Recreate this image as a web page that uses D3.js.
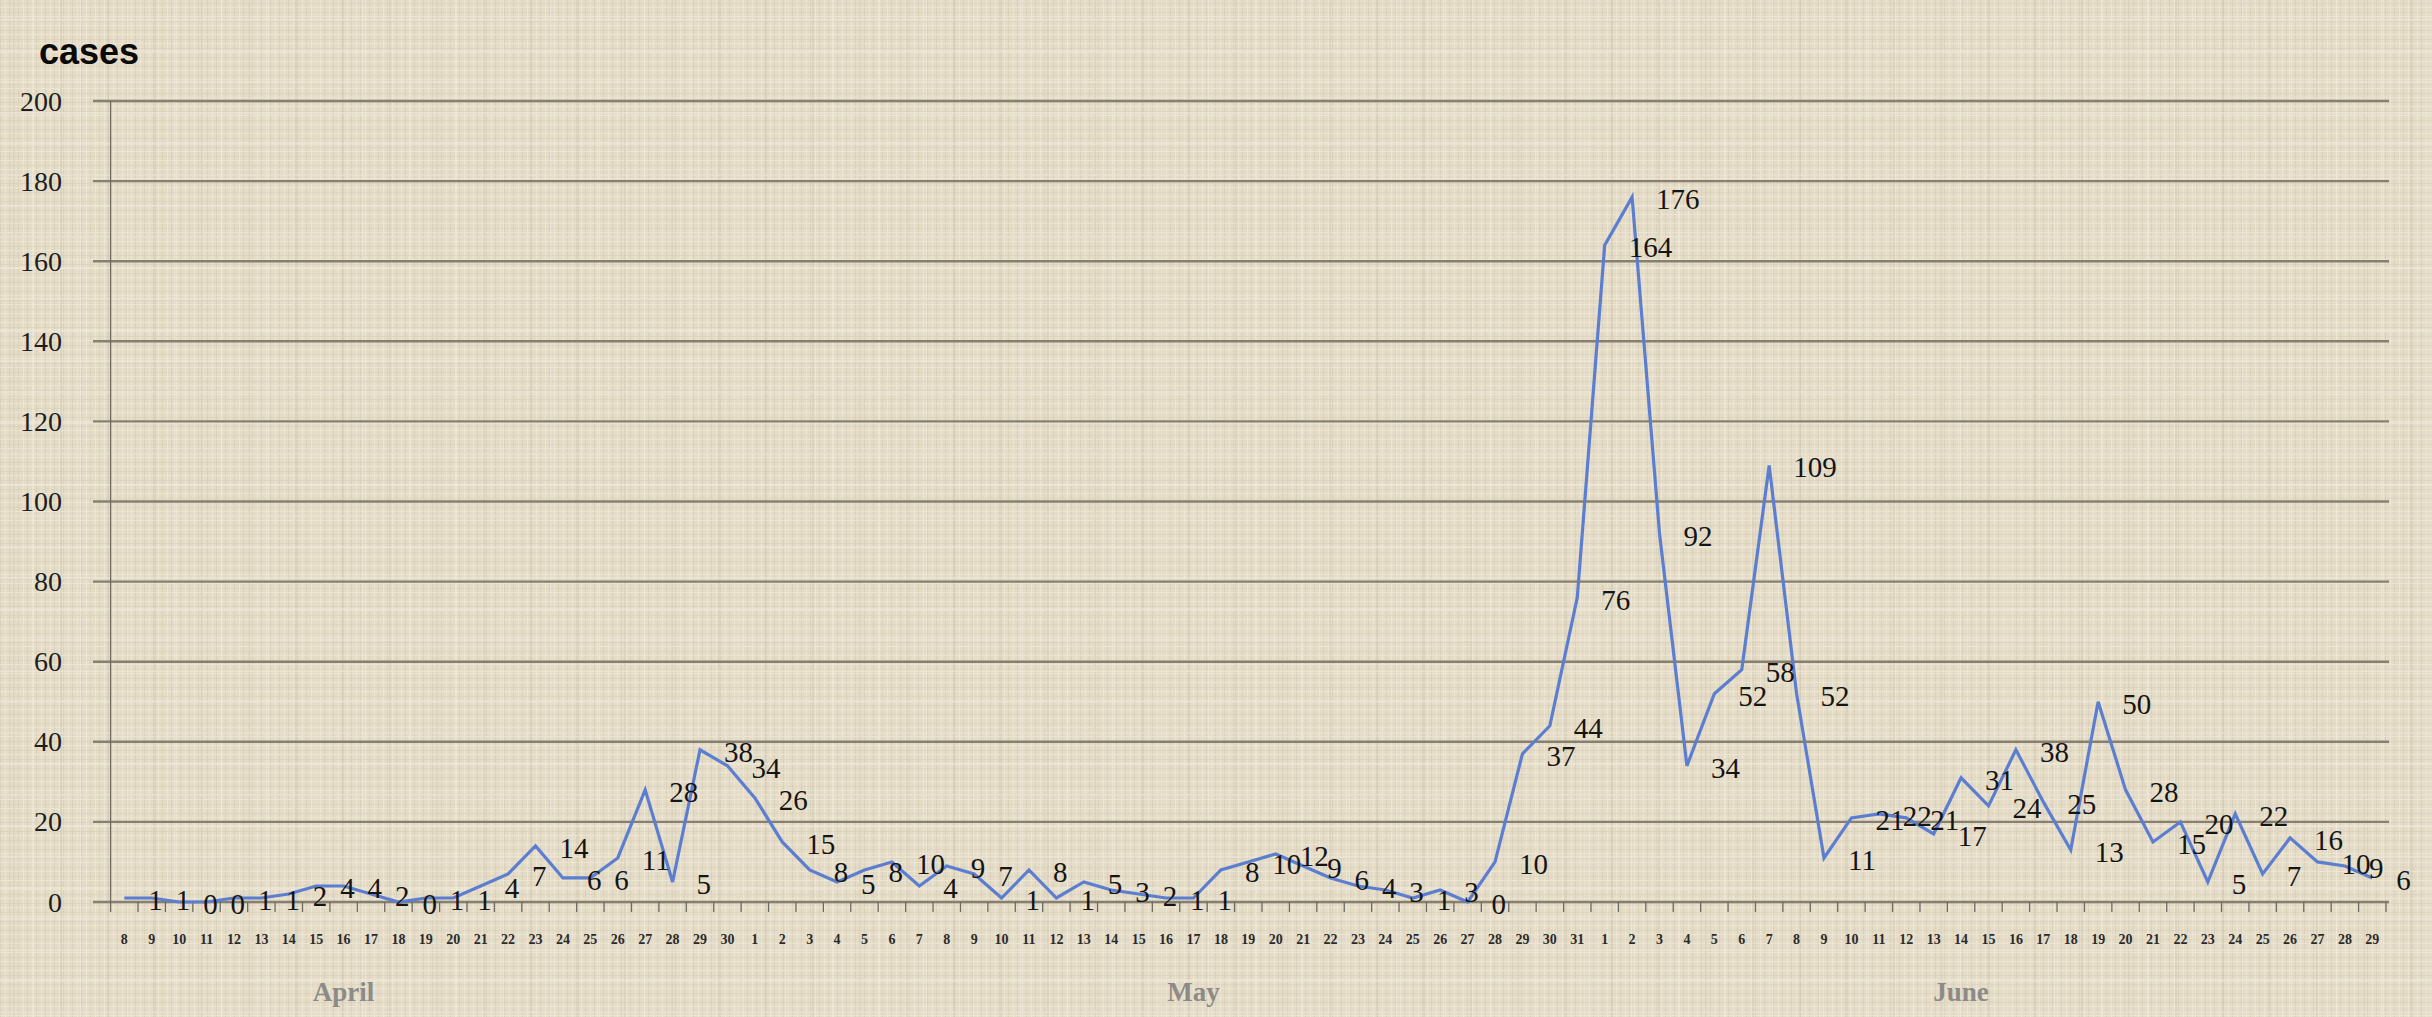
<!DOCTYPE html>
<html>
<head>
<meta charset="utf-8">
<script src="https://cdn.jsdelivr.net/npm/d3@7"></script>
<style>
  html, body { margin: 0; padding: 0; background: #e6dece; }
  svg { display: block; }
</style>
</head>
<body>
<svg id="chart" width="2432" height="1017"></svg>
<script>
// ---- data ----
const months = ["April", "May", "June"];
const aprilDays = d3.range(8, 31);   // 8..30
const mayDays = d3.range(1, 32);     // 1..31
const juneDays = d3.range(1, 30);    // 1..29
const dayLabels = [...aprilDays, ...mayDays, ...juneDays];
const categories = [
  ...aprilDays.map(d => "Apr-" + d),
  ...mayDays.map(d => "May-" + d),
  ...juneDays.map(d => "Jun-" + d)
];
const cases = [
  1,1,0,0,1,1,2,4,4,2,
  0,1,1,4,7,14,6,6,11,28,
  5,38,34,26,15,8,5,8,10,4,
  9,7,1,8,1,5,3,2,1,1,
  8,10,12,9,6,4,3,1,3,0,
  10,37,44,76,164,176,92,34,52,58,
  109,52,11,21,22,21,17,31,24,38,
  25,13,50,28,15,20,5,22,7,16,
  10,9,6
];
const yTicks = [0, 20, 40, 60, 80, 100, 120, 140, 160, 180, 200];
const monthLabelAt = ["Apr-16", "May-17", "Jun-14"];
const yTitle = "cases";

// ---- layout ----
const W = 2432, H = 1017;
const plotLeft = 110.6, plotRight = 2386, plotTop = 101, plotBottom = 902;
const svg = d3.select("#chart");

// background texture
const defs = svg.append("defs");
const pat = defs.append("pattern").attr("id", "linen")
  .attr("width", 9).attr("height", 9).attr("patternUnits", "userSpaceOnUse");
pat.append("rect").attr("width", 9).attr("height", 9).attr("fill", "#e5dcc8");
pat.append("rect").attr("x", 0).attr("y", 0).attr("width", 1).attr("height", 9).attr("fill", "#d6ccb6").attr("opacity", 0.7);
pat.append("rect").attr("x", 5).attr("y", 0).attr("width", 1).attr("height", 9).attr("fill", "#efe8d8").attr("opacity", 0.8);
pat.append("rect").attr("x", 0).attr("y", 3).attr("width", 9).attr("height", 1).attr("fill", "#d8ceb9").attr("opacity", 0.6);
pat.append("rect").attr("x", 0).attr("y", 7).attr("width", 9).attr("height", 1).attr("fill", "#eee7d6").attr("opacity", 0.8);
const pat2 = defs.append("pattern").attr("id", "streak")
  .attr("width", 47).attr("height", 31).attr("patternUnits", "userSpaceOnUse");
pat2.append("rect").attr("x", 13).attr("y", 0).attr("width", 2).attr("height", 31).attr("fill", "#d0c5ae").attr("opacity", 0.4);
pat2.append("rect").attr("x", 0).attr("y", 19).attr("width", 47).attr("height", 2).attr("fill", "#f2ecdf").attr("opacity", 0.45);
pat2.append("rect").attr("x", 33).attr("y", 0).attr("width", 1).attr("height", 31).attr("fill", "#f3eee2").attr("opacity", 0.5);

svg.append("rect").attr("width", W).attr("height", H).attr("fill", "url(#linen)");
svg.append("rect").attr("width", W).attr("height", H).attr("fill", "url(#streak)");

// scales
const x = d3.scaleBand().domain(categories).range([plotLeft, plotRight]).padding(0);
const cx = c => x(c) + x.bandwidth() / 2;
const y = d3.scaleLinear().domain([0, 200]).range([plotBottom, plotTop]);

// gridlines
svg.append("g").selectAll("line").data(yTicks).join("line")
  .attr("x1", 93).attr("x2", plotRight + 3)
  .attr("y1", d => y(d)).attr("y2", d => y(d))
  .attr("stroke", "#878070").attr("stroke-width", 2.4);

// y axis line
svg.append("line")
  .attr("x1", plotLeft).attr("x2", plotLeft)
  .attr("y1", y(200)).attr("y2", y(0))
  .attr("stroke", "#6f6a60").attr("stroke-width", 1.3);

// y labels
svg.append("g").selectAll("text").data(yTicks).join("text")
  .attr("x", 62).attr("y", d => y(d))
  .attr("text-anchor", "end").attr("dominant-baseline", "central")
  .attr("font-family", "'Liberation Serif', 'Times New Roman', serif")
  .attr("font-size", 28).attr("fill", "#1e1e1e")
  .text(d => d);

// x ticks at category boundaries
const boundaries = [...categories.map(c => x(c)), plotRight];
svg.append("g").selectAll("line").data(boundaries).join("line")
  .attr("x1", d => d).attr("x2", d => d)
  .attr("y1", y(0)).attr("y2", y(0) + 10)
  .attr("stroke", "#6f6a60").attr("stroke-width", 1.3);

// x tick labels (days)
svg.append("g").selectAll("text").data(categories).join("text")
  .attr("x", c => cx(c)).attr("y", 939)
  .attr("text-anchor", "middle").attr("dominant-baseline", "central")
  .attr("font-family", "'Liberation Serif', 'Times New Roman', serif")
  .attr("font-size", 14).attr("font-weight", "bold").attr("fill", "#2a2a2a")
  .text((c, i) => dayLabels[i]);

// month labels
svg.append("g").selectAll("text").data(months).join("text")
  .attr("x", (m, i) => cx(monthLabelAt[i])).attr("y", 992)
  .attr("text-anchor", "middle").attr("dominant-baseline", "central")
  .attr("font-family", "'Liberation Serif', 'Times New Roman', serif")
  .attr("font-size", 27).attr("font-weight", "bold").attr("fill", "#8d8b87")
  .text(m => m);

// line
const line = d3.line()
  .x((d, i) => cx(categories[i]))
  .y(d => y(d));
svg.append("path").datum(cases)
  .attr("d", line)
  .attr("fill", "none").attr("stroke", "#5b7ed0").attr("stroke-width", 3.2)
  .attr("stroke-linejoin", "miter");

// data labels (right of each point)
svg.append("g").selectAll("text").data(cases).join("text")
  .attr("x", (d, i) => cx(categories[i]) + 24)
  .attr("y", d => y(d) + 2)
  .attr("text-anchor", "start").attr("dominant-baseline", "central")
  .attr("font-family", "'Liberation Serif', 'Times New Roman', serif")
  .attr("font-size", 29).attr("fill", "#141414")
  .text(d => d);

// y title
svg.append("text")
  .attr("x", 39).attr("y", 64)
  .attr("font-family", "'Liberation Sans', Arial, sans-serif")
  .attr("font-size", 36).attr("font-weight", "bold").attr("fill", "#0a0a0a")
  .text(yTitle);
</script>
</body>
</html>
